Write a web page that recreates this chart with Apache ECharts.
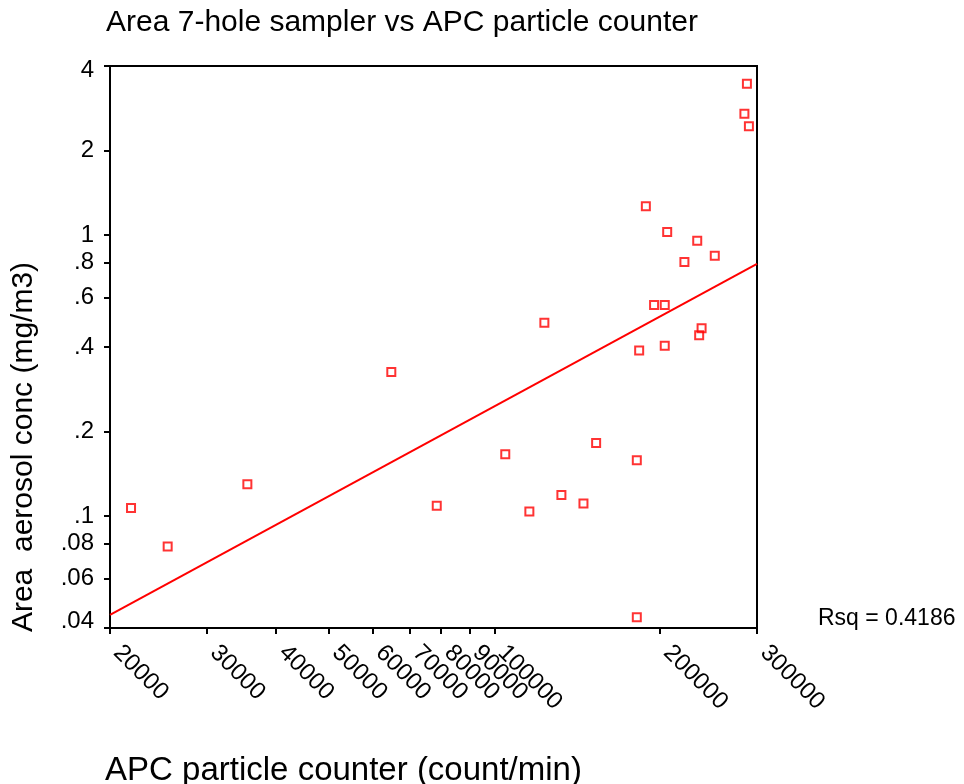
<!DOCTYPE html>
<html>
<head>
<meta charset="utf-8">
<script src="https://cdn.jsdelivr.net/npm/echarts@6/dist/echarts.min.js"></script>
<style>
  html, body { margin: 0; padding: 0; background: #fff; }
  #chart { width: 964px; height: 784px; }
</style>
</head>
<body>
<div id="chart"></div>
<script>
// APC particle counter (count/min)
var xValues = [21840, 25460, 35540, 64920, 78520, 104600, 115700, 123200, 132300, 145100,
               153000, 181400, 181400, 183200, 188400, 195000, 203900, 203900, 206000, 221400,
               233600, 251400, 237900, 235500, 287600, 284600, 290000];
// Area aerosol conc (mg/m3)
var yValues = [0.107, 0.078, 0.130, 0.326, 0.109, 0.166, 0.104, 0.488, 0.119, 0.111,
               0.182, 0.158, 0.0437, 0.389, 1.267, 0.564, 0.564, 0.404, 1.026, 0.803,
               0.956, 0.845, 0.466, 0.440, 3.46, 2.706, 2.44];
// fitted line end points (log-log)
var fitX = [20000, 300000];
var fitY = [0.0445, 0.79];

var xTickValues = [20000, 30000, 40000, 50000, 60000, 70000, 80000, 90000, 100000, 200000, 300000];
var xTickLabels = ['20000', '30000', '40000', '50000', '60000', '70000', '80000', '90000', '100000', '200000', '300000'];
var yTickValues = [0.04, 0.06, 0.08, 0.1, 0.2, 0.4, 0.6, 0.8, 1, 2, 4];
var yTickLabels = ['.04', '.06', '.08', '.1', '.2', '.4', '.6', '.8', '1', '2', '4'];

var titleText = 'Area 7-hole sampler vs APC particle counter';
var xName = 'APC particle counter (count/min)';
var yName = 'Area  aerosol conc (mg/m3)';
var rsqText = 'Rsq = 0.4186';

function nearestIndex(v, vals) {
  var best = 0, bd = Infinity;
  for (var i = 0; i < vals.length; i++) {
    var d = Math.abs(Math.log(v) - Math.log(vals[i]));
    if (d < bd) { bd = d; best = i; }
  }
  return best;
}

var FONT = 'Liberation Sans, Arial, Helvetica, sans-serif';
var scatterData = xValues.map(function (x, i) { return [x, yValues[i]]; });
var fitData = fitX.map(function (x, i) { return [x, fitY[i]]; });
var yRichBase = { fontFamily: FONT, fontSize: 24, color: '#000' };

var chart = echarts.init(document.getElementById('chart'), null, { renderer: 'canvas' });
chart.setOption({
  animation: false,
  backgroundColor: '#fff',
  textStyle: { fontFamily: FONT },
  title: [
    { text: titleText, left: 106, top: 8, padding: 0,
      textStyle: { fontFamily: FONT, fontSize: 30, fontWeight: 'normal', color: '#000', lineHeight: 30 } },
    { text: rsqText, left: 818, top: 607, padding: 0,
      textStyle: { fontFamily: FONT, fontSize: 23, fontWeight: 'normal', color: '#000', lineHeight: 23 } }
  ],
  grid: { left: 110, right: 207, top: 66, bottom: 156, show: true, borderColor: '#000', borderWidth: 2,
          containLabel: false, outerBoundsMode: 'none' },
  xAxis: {
    type: 'log', logBase: 10, min: 20000, max: 300000,
    name: xName, nameLocation: 'middle', nameGap: 126,
    nameTextStyle: { fontFamily: FONT, fontSize: 33, color: '#000', lineHeight: 33, padding: [0, 180, 0, 0] },
    axisLine: { show: true, onZero: false, lineStyle: { color: '#000', width: 2 } },
    axisTick: { show: true, customValues: xTickValues, length: 6, lineStyle: { color: '#000', width: 2 } },
    axisLabel: { show: true, customValues: xTickValues, rotate: -45, margin: 14, fontSize: 24,
                 padding: [0, 0, 0, 10],
                 fontFamily: FONT, color: '#000',
                 formatter: function (v) { return xTickLabels[nearestIndex(v, xTickValues)]; } },
    splitLine: { show: false }, minorTick: { show: false }, minorSplitLine: { show: false }
  },
  yAxis: {
    type: 'log', logBase: 10, min: 0.04, max: 4,
    name: yName, nameLocation: 'middle', nameGap: 71,
    nameTextStyle: { fontFamily: FONT, fontSize: 30, color: '#000', lineHeight: 30, padding: [0, 200, 0, 0] },
    axisLine: { show: true, onZero: false, lineStyle: { color: '#000', width: 2 } },
    axisTick: { show: true, customValues: yTickValues, length: 6, lineStyle: { color: '#000', width: 2 } },
    axisLabel: { show: true, customValues: yTickValues, margin: 16, fontSize: 24,
                 fontFamily: FONT, color: '#000',
                 rich: {
                   n: yRichBase,
                   hi: Object.assign({ padding: [8, 0, 0, 0] }, yRichBase),
                   lo: Object.assign({ padding: [0, 0, 13, 0] }, yRichBase)
                 },
                 formatter: function (v) {
                   var i = nearestIndex(v, yTickValues);
                   var key = i === 0 ? 'lo' : (i === yTickValues.length - 1 ? 'hi' : 'n');
                   return '{' + key + '|' + yTickLabels[i] + '}';
                 } },
    splitLine: { show: false }, minorTick: { show: false }, minorSplitLine: { show: false }
  },
  series: [
    { type: 'line', data: fitData, showSymbol: false, symbol: 'none', silent: true, z: 2,
      lineStyle: { color: '#ff0000', width: 2 } },
    { type: 'scatter', data: scatterData, symbol: 'rect', symbolSize: 8, z: 3,
      itemStyle: { color: 'rgba(255,255,255,0)', borderColor: '#ff0000', borderWidth: 2 } }
  ]
});
</script>
</body>
</html>
